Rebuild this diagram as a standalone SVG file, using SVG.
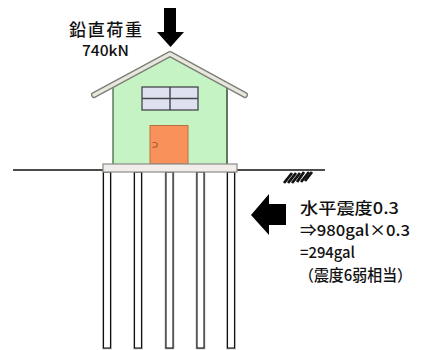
<svg xmlns="http://www.w3.org/2000/svg" width="434" height="350" viewBox="0 0 434 350">
  <style>
    .lbl { font-family: "Noto Sans CJK JP", "Liberation Sans", sans-serif; fill: #111; }
    .pile-halo { fill: none; stroke: #aaa; stroke-width: 2.6; }
    .pile { fill: #fff; stroke: #111; stroke-width: 1.1; }
    .load { fill: #000; }
  </style>
  <defs>
    <g id="pile">
      <rect class="pile-halo" x="0" y="0" width="7" height="176"/>
      <rect class="pile" x="0" y="0" width="7" height="176"/>
    </g>
  </defs>

  <!-- ground surface -->
  <g id="ground">
    <line x1="13" y1="170" x2="325" y2="170" stroke="#111" stroke-width="1.5"/>
    <g stroke="#111" stroke-width="2.8" stroke-linecap="butt">
      <line x1="284" y1="183" x2="292" y2="173"/>
      <line x1="288" y1="183" x2="296" y2="173"/>
      <line x1="292" y1="183" x2="300" y2="173"/>
      <line x1="297" y1="182" x2="304" y2="172"/>
      <line x1="301" y1="182" x2="309" y2="172"/>
      <line x1="305" y1="181" x2="312" y2="172"/>
    </g>
  </g>

  <!-- piles -->
  <g id="piles">
    <use href="#pile" x="103.5" y="172"/>
    <use href="#pile" x="134.5" y="172"/>
    <use href="#pile" x="166" y="172"/>
    <use href="#pile" x="197" y="172"/>
    <use href="#pile" x="227.5" y="172"/>
  </g>

  <!-- house -->
  <g id="house">
    <polygon points="113,86 170,55 227,86 227,164 113,164" fill="#c6f3c4"/>
    <line x1="113" y1="84" x2="113" y2="164" stroke="#3c5a3c" stroke-width="1.2"/>
    <line x1="227" y1="84" x2="227" y2="164" stroke="#3c5a3c" stroke-width="1.6"/>
    <!-- roof -->
    <polyline points="94,95 170,54 245,95" fill="none" stroke="#7d7d78" stroke-width="6" stroke-linecap="round" stroke-linejoin="round"/>
    <polyline points="94,95 170,54 245,95" fill="none" stroke="#e6e8dc" stroke-width="3.4" stroke-linecap="round" stroke-linejoin="round"/>
    <!-- window -->
    <rect x="142" y="87" width="56" height="23" fill="#dfe0f0" stroke="#44484c" stroke-width="1.3"/>
    <line x1="170" y1="87" x2="170" y2="110" stroke="#2a3a3a" stroke-width="1.3"/>
    <line x1="142" y1="98.5" x2="198" y2="98.5" stroke="#44484c" stroke-width="1.3"/>
    <!-- door -->
    <rect x="150" y="125.5" width="38" height="38.5" fill="#f8925a" stroke="#b87040" stroke-width="1"/>
    <path d="M152.5,142.5 h2.5 a2.3,2.3 0 0 1 0,4.6 h-2.5" fill="none" stroke="#b0602a" stroke-width="1.2"/>
    <!-- foundation slab -->
    <rect x="103" y="164" width="134" height="8" fill="#f1edea" stroke="#8a8a88" stroke-width="1.2"/>
  </g>

  <!-- vertical load -->
  <g id="vertical-load">
    <polygon class="load" points="164,8 176,8 176,32 184,32 170.5,47 157,32 164,32"/>
    <text class="lbl" x="69" y="35.5" font-size="17" font-weight="500" textLength="73" lengthAdjust="spacing">鉛直荷重</text>
    <text class="lbl" x="82" y="56" font-size="14.5" font-weight="500" textLength="47" lengthAdjust="spacingAndGlyphs">740kN</text>
  </g>

  <!-- horizontal load -->
  <g id="horizontal-load">
    <polygon class="load" points="251,215 269,194 269,204 286,204 286,225 269,225 269,235"/>
    <text class="lbl" x="300" y="214" font-size="15.5" font-weight="500" textLength="99" lengthAdjust="spacingAndGlyphs">水平震度0.3</text>
    <text class="lbl" x="300" y="236" font-size="15.5" font-weight="500" textLength="110" lengthAdjust="spacingAndGlyphs">⇒980gal×0.3</text>
    <text class="lbl" x="300" y="258" font-size="15.5" font-weight="500" textLength="55" lengthAdjust="spacingAndGlyphs">=294gal</text>
    <text class="lbl" x="299" y="281" font-size="15.5" font-weight="500" textLength="113" lengthAdjust="spacingAndGlyphs">（震度6弱相当）</text>
  </g>
</svg>
